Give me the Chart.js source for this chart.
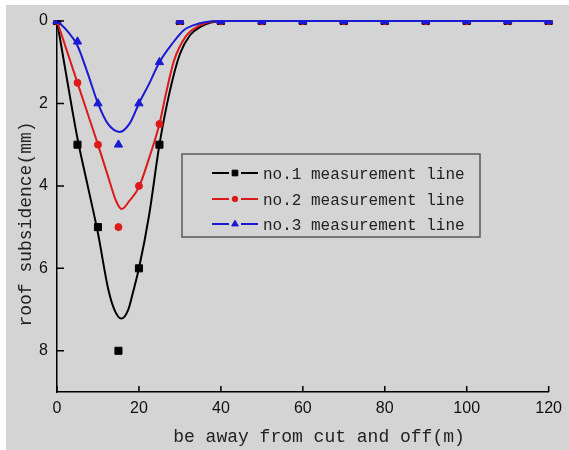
<!DOCTYPE html>
<html>
<head>
<meta charset="utf-8">
<title>roof subsidence</title>
<script src="https://cdn.jsdelivr.net/npm/chart.js@4.4.1/dist/chart.umd.min.js"></script>
<style>
    html, body { margin: 0; padding: 0; background: #fff; }
    #bg { position: absolute; left: 6px; top: 5px; width: 563px; height: 445px; background: #d4d4d4; }
    #wrap { position: absolute; left: 0; top: 0; width: 569px; height: 450px; }
</style>
</head>
<body>
<div id="bg"></div>
<div id="wrap"><canvas id="subsidenceChart" width="569" height="450"></canvas></div>
<script>
// measured points (distance in m, subsidence in mm)
const pointX = [0, 5, 10, 15, 20, 25, 30, 40, 50, 60, 70, 80, 90, 100, 110, 120];
const line1Points = [0, 3, 5, 8, 6, 3, 0, 0, 0, 0, 0, 0, 0, 0, 0, 0];
const line2Points = [0, 1.5, 3, 5, 4, 2.5, 0, 0, 0, 0, 0, 0, 0, 0, 0, 0];
const line3Points = [0, 0.5, 2, 3, 2, 1, 0, 0, 0, 0, 0, 0, 0, 0, 0, 0];

// fitted curves
const fit1X = [0, 2.5, 5, 7.5, 10, 12.5, 14, 15.7, 17.4, 18.5, 20, 22.5, 25, 27.5, 30, 32.5, 35, 37.5, 40, 120];
const fit1Y = [0, 1.45, 2.85, 4.0, 5.15, 6.5, 7.0, 7.22, 7.0, 6.6, 6.0, 4.7, 3.0, 1.72, 0.8, 0.34, 0.14, 0.04, 0, 0];
const fit2X = [0, 2.5, 5, 7.5, 10, 12.4, 14.4, 15.8, 17.7, 20, 22.5, 25, 26.6, 28.6, 31.4, 34.2, 37.5, 40, 120];
const fit2Y = [0, 0.75, 1.5, 2.25, 3, 3.75, 4.36, 4.56, 4.36, 4.03, 3.32, 2.5, 1.76, 0.95, 0.38, 0.14, 0.02, 0, 0];
const fit3X = [0, 2.5, 5, 7.5, 10, 12.4, 15.3, 17.7, 20, 22.5, 25, 28.2, 31, 33.4, 36, 40, 120];
const fit3Y = [0, 0.24, 0.6, 1.27, 2, 2.49, 2.69, 2.49, 2, 1.52, 1.0, 0.54, 0.22, 0.1, 0.03, 0, 0];

const seriesLabels = ['no.1 measurement line', 'no.2 measurement line', 'no.3 measurement line'];
const xTicks = [0, 20, 40, 60, 80, 100, 120];
const yTicks = [0, 2, 4, 6, 8];
const xTitle = 'be away from cut and off(m)';
const yTitle = 'roof subsidence(mm)';

(function() {
    'use strict';

    const colors = ['#000000', '#dc1a1a', '#1a1ad4'];
    const styles = [
        { pointStyle: 'rect', radius: 5 },
        { pointStyle: 'circle', radius: 3.5 },
        { pointStyle: 'triangle', radius: 4.8 }
    ];
    const textColor = '#222';
    const monoFont = '"Liberation Mono", "DejaVu Sans Mono", monospace';
    const clipBox = { left: 6, top: 1, right: 6, bottom: 6 };

    function toXY(xs, ys) {
        return xs.map((x, i) => ({ x: x, y: ys[i] }));
    }

    function fitDataset(xs, ys, idx, order) {
        return {
            label: seriesLabels[idx] + ' fit',
            data: toXY(xs, ys),
            showLine: true,
            borderColor: colors[idx],
            borderWidth: 2,
            pointRadius: 0,
            cubicInterpolationMode: 'monotone',
            clip: clipBox,
            order: order
        };
    }

    function pointDataset(ys, idx, order) {
        return {
            label: seriesLabels[idx],
            data: toXY(pointX, ys),
            showLine: false,
            pointStyle: styles[idx].pointStyle,
            pointRadius: styles[idx].radius,
            pointBackgroundColor: colors[idx],
            pointBorderColor: colors[idx],
            pointBorderWidth: 1,
            clip: clipBox,
            order: order
        };
    }

    /**
     * Inward ticks, axis titles and the boxed legend
     */
    const decorPlugin = {
        id: 'decor',
        afterDraw(chart) {
            const ctx = chart.ctx;
            const area = chart.chartArea;
            const xs = chart.scales.x;
            const ys = chart.scales.y;
            ctx.save();

            // tick marks pointing into the plot
            ctx.strokeStyle = '#000';
            ctx.lineWidth = 1.5;
            ctx.beginPath();
            xs.ticks.forEach(t => {
                const px = xs.getPixelForValue(t.value);
                ctx.moveTo(px, area.bottom);
                ctx.lineTo(px, area.bottom - 6);
            });
            ys.ticks.forEach(t => {
                const py = ys.getPixelForValue(t.value);
                ctx.moveTo(area.left, py);
                ctx.lineTo(area.left + 7, py);
            });
            ctx.stroke();

            // axis titles
            ctx.fillStyle = textColor;
            ctx.font = '18px ' + monoFont;
            ctx.textAlign = 'center';
            ctx.textBaseline = 'alphabetic';
            ctx.fillText(xTitle, 319, 442);
            ctx.save();
            ctx.translate(31, 224);
            ctx.rotate(-Math.PI / 2);
            ctx.fillText(yTitle, 0, 0);
            ctx.restore();

            // legend box
            ctx.strokeStyle = '#5a5a5a';
            ctx.lineWidth = 1.5;
            ctx.strokeRect(182, 154, 298, 83);
            const rows = [173, 199, 224];
            ctx.font = '16px ' + monoFont;
            ctx.textAlign = 'left';
            rows.forEach((y, i) => {
                ctx.strokeStyle = colors[i];
                ctx.fillStyle = colors[i];
                ctx.lineWidth = 2;
                ctx.beginPath();
                ctx.moveTo(212, y);
                ctx.lineTo(229, y);
                ctx.moveTo(241, y);
                ctx.lineTo(258, y);
                ctx.stroke();
                ctx.lineWidth = 1;
                Chart.helpers.drawPoint(ctx, {
                    pointStyle: styles[i].pointStyle,
                    radius: styles[i].radius * 0.8,
                    rotation: 0,
                    borderWidth: 1
                }, 235, y);
                ctx.fillStyle = textColor;
                ctx.fillText(seriesLabels[i], 263, y + 6);
            });

            ctx.restore();
        }
    };

    function axisTickFont() {
        return { family: '"Liberation Sans", Arial, sans-serif', size: 16 };
    }

    function initializeChart() {
        const ctx = document.getElementById('subsidenceChart');

        new Chart(ctx, {
            type: 'scatter',
            data: {
                datasets: [
                    fitDataset(fit1X, fit1Y, 0, 5),
                    pointDataset(line1Points, 0, 4),
                    fitDataset(fit2X, fit2Y, 1, 3),
                    pointDataset(line2Points, 1, 2),
                    fitDataset(fit3X, fit3Y, 2, 1),
                    pointDataset(line3Points, 2, 0)
                ]
            },
            options: {
                responsive: false,
                animation: false,
                events: [],
                layout: { padding: { left: 0, top: 21, right: 16, bottom: 0 } },
                plugins: {
                    legend: { display: false },
                    tooltip: { enabled: false }
                },
                scales: {
                    x: {
                        type: 'linear',
                        min: 0,
                        max: 120,
                        grid: { display: false, drawTicks: false },
                        border: { display: true, color: '#000', width: 1.5 },
                        ticks: { color: '#111', font: axisTickFont(), padding: 7, maxRotation: 0 },
                        afterBuildTicks: scale => { scale.ticks = xTicks.map(v => ({ value: v })); },
                        afterFit: scale => { scale.height = 58; }
                    },
                    y: {
                        type: 'linear',
                        reverse: true,
                        min: 0,
                        max: 9,
                        grid: { display: false, drawTicks: false },
                        border: { display: true, color: '#000', width: 1.5 },
                        ticks: { color: '#111', font: axisTickFont(), padding: 9 },
                        afterBuildTicks: scale => { scale.ticks = yTicks.map(v => ({ value: v })); },
                        afterFit: scale => { scale.width = 57; }
                    }
                }
            },
            plugins: [decorPlugin]
        });
    }

    initializeChart();
})();
</script>
</body>
</html>
